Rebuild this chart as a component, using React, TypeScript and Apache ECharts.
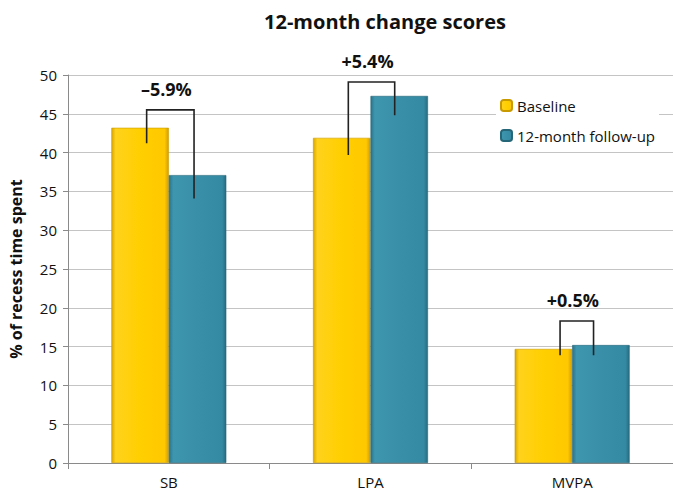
import React, { useEffect, useRef } from "react";
import * as echarts from "echarts";

const categories = ["SB", "LPA", "MVPA"];
const seriesNames = ["Baseline", "12-month follow-up"];
const baseline = [43.2, 41.9, 14.7];
const followUp = [37.1, 47.3, 15.2];
const changeLabels = ["\u20135.9%", "+5.4%", "+0.5%"];
const bracketTop = [45.5, 49.1, 18.3];
const bracketLeftEnd = [41.2, 39.7, 13.9];
const bracketRightEnd = [34.1, 44.8, 13.9];
const yTicks = [0, 5, 10, 15, 20, 25, 30, 35, 40, 45, 50];

const FONT = "'Open Sans', 'Noto Sans', sans-serif";
// leg x-offsets as fractions of a category's width
const legOffsets = [
  [-0.11, 0.125],
  [-0.11, 0.12],
  [-0.06, 0.106],
];

export default function App() {
  const ref = useRef<HTMLDivElement>(null);
  useEffect(() => {
    if (!ref.current) return;
    const chart = echarts.init(ref.current, null, { renderer: "svg" });
    const yellow = new echarts.graphic.LinearGradient(0, 0, 1, 0, [
      { offset: 0, color: "#D9A600" },
      { offset: 0.07, color: "#FFD21C" },
      { offset: 0.5, color: "#FFCF00" },
      { offset: 0.93, color: "#FFC800" },
      { offset: 1, color: "#D29E00" },
    ]);
    const teal = new echarts.graphic.LinearGradient(0, 0, 1, 0, [
      { offset: 0, color: "#2A7489" },
      { offset: 0.07, color: "#3D95AE" },
      { offset: 0.5, color: "#3A8FA8" },
      { offset: 0.93, color: "#358AA3" },
      { offset: 1, color: "#276C80" },
    ]);
    const bracketData = categories.map((_, i) => [
      i,
      bracketTop[i],
      bracketLeftEnd[i],
      bracketRightEnd[i],
    ]);
    chart.setOption({
      animation: false,
      title: {
        text: "12-month change scores",
        left: 380,
        textAlign: "center",
        top: 6,
        textStyle: { fontFamily: FONT, fontSize: 20, fontWeight: "bold", color: "#111" },
      },
      legend: {
        orient: "vertical",
        left: 496,
        top: 92,
        itemWidth: 11,
        itemHeight: 11,
        itemGap: 15,
        padding: [6, 4, 6, 4],
        backgroundColor: "#fff",
        data: seriesNames,
        textStyle: { fontFamily: FONT, fontSize: 15, color: "#111" },
      },
      grid: { left: 68, right: -4, top: 75, bottom: 30, containLabel: false },
      xAxis: {
        type: "category",
        data: categories,
        axisLine: { lineStyle: { color: "#8a8a8a" } },
        axisTick: { show: true, length: 6, lineStyle: { color: "#8a8a8a" } },
        axisLabel: { fontFamily: FONT, fontSize: 15, color: "#111", margin: 11 },
      },
      yAxis: {
        type: "value",
        min: yTicks[0],
        max: yTicks[yTicks.length - 1],
        interval: yTicks[1] - yTicks[0],
        name: "% of recess time spent",
        nameLocation: "middle",
        nameGap: 44,
        nameTextStyle: { fontFamily: FONT, fontSize: 16, fontWeight: "bold", color: "#111" },
        axisLine: { show: true, lineStyle: { color: "#8a8a8a" } },
        axisTick: { show: true, length: 5, lineStyle: { color: "#8a8a8a" } },
        axisLabel: { fontFamily: FONT, fontSize: 15, color: "#111", margin: 11 },
        splitLine: { lineStyle: { color: "#c4c4c4" } },
      },
      series: [
        {
          name: seriesNames[0],
          type: "bar",
          data: baseline,
          barGap: "0%",
          barCategoryGap: "43%",
          itemStyle: { color: yellow, borderColor: "#C99A00", borderWidth: 0.6 },
        },
        {
          name: seriesNames[1],
          type: "bar",
          data: followUp,
          itemStyle: { color: teal, borderColor: "#256778", borderWidth: 0.6 },
        },
        {
          type: "custom",
          name: "brackets",
          z: 5,
          data: bracketData,
          renderItem: (params: any, api: any) => {
            const i = api.value(0);
            const catW = api.size([1, 0])[0];
            const center = api.coord([i, 0])[0];
            const yTop = api.coord([i, api.value(1)])[1];
            const yL = api.coord([i, api.value(2)])[1];
            const yR = api.coord([i, api.value(3)])[1];
            const off = legOffsets[params.dataIndex];
            const xL = center + off[0] * catW;
            const xR = center + off[1] * catW;
            return {
              type: "group",
              children: [
                {
                  type: "polyline",
                  shape: { points: [[xL, yL], [xL, yTop], [xR, yTop], [xR, yR]] },
                  style: { stroke: "#222", lineWidth: 1.6, fill: "none" },
                },
                {
                  type: "text",
                  style: {
                    text: changeLabels[params.dataIndex],
                    x: (xL + xR) / 2 - 4,
                    y: yTop - 21,
                    textAlign: "center",
                    textVerticalAlign: "middle",
                    fontFamily: FONT,
                    fontSize: 18,
                    fontWeight: "bold",
                    fill: "#111",
                  },
                },
              ],
            };
          },
        },
      ],
    });
    return () => chart.dispose();
  }, []);
  return (
    <div
      ref={ref}
      style={{ position: "absolute", left: 0, top: 0, width: 673, height: 493 }}
    />
  );
}
